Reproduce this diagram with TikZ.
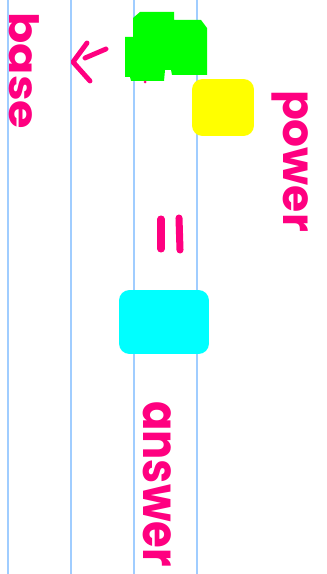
\documentclass[tikz,border=0pt]{standalone}
\usepackage{fontspec}
\setmainfont{Poppins}
\usepackage{tikz}
\usetikzlibrary{positioning}
\definecolor{hotpink}{RGB}{255,0,128}
\definecolor{ruleblue}{RGB}{160,205,255}
\definecolor{brightgreen}{RGB}{0,255,0}
\definecolor{brightyellow}{RGB}{255,255,0}
\definecolor{brightcyan}{RGB}{0,255,255}
\tikzset{
  ruling/.style={
    draw=ruleblue,
    line width=1.1pt
  },
  word/.style={
    text=hotpink,
    rotate=-90,
    anchor=base,
    inner sep=0pt,
    font=\bfseries
  },
  blob/.style={
    rounded corners=6pt,
    draw=none,
    inner sep=0pt
  },
  pen/.style={
    draw=hotpink,
    line width=2.8pt,
    line cap=round,
    line join=round
  }
}
\begin{document}
\begin{tikzpicture}[x=0.02cm, y=-0.02cm]
\useasboundingbox (0,0) rectangle (326,574);
\fill[white] (0,0) rectangle (326,574);
% lined paper
\foreach \lx in {8,71,134,197}
  \draw[ruling] (\lx,0) -- (\lx,574);
% coloured blobs
\fill[brightgreen] (140,12) -- (174,12) -- (174,20) -- (201,20) -- (207,28)
  -- (207,75) -- (172,75) -- (171,70) -- (165,70) -- (164,81) -- (131,81)
  -- (130,77) -- (125,77) -- (125,37) -- (133,37) -- (133,18) -- cycle;
\fill[hotpink] (145,82) circle (1.5);
\node[blob, fill=brightyellow, minimum width=1.24cm, minimum height=1.14cm] (power box) at (223,107.5) {};
\node[blob, fill=brightcyan, minimum width=1.8cm, minimum height=1.28cm] (answer box) at (164,322) {};
% labels
\node[word, text depth=0pt, font=\bfseries\fontsize{23}{25}\selectfont, xscale=1.14] (base) at (10,71) {base};
\node[word, font=\bfseries\fontsize{25}{27}\selectfont, xscale=1.0] (power) at (283,161) {power};
\node[word, font=\bfseries\fontsize{28}{30}\selectfont, xscale=0.88] (answer) at (143,484) {answer};
% arrow and equals sign
\draw[pen] (87,43) -- (73,62) -- (90,81);
\draw[pen] (85,58) -- (106,49);
\draw[pen, line width=4pt] (161,219) -- (161,249);
\draw[pen, line width=4pt] (179,218) -- (180,250);
\end{tikzpicture}
\end{document}
